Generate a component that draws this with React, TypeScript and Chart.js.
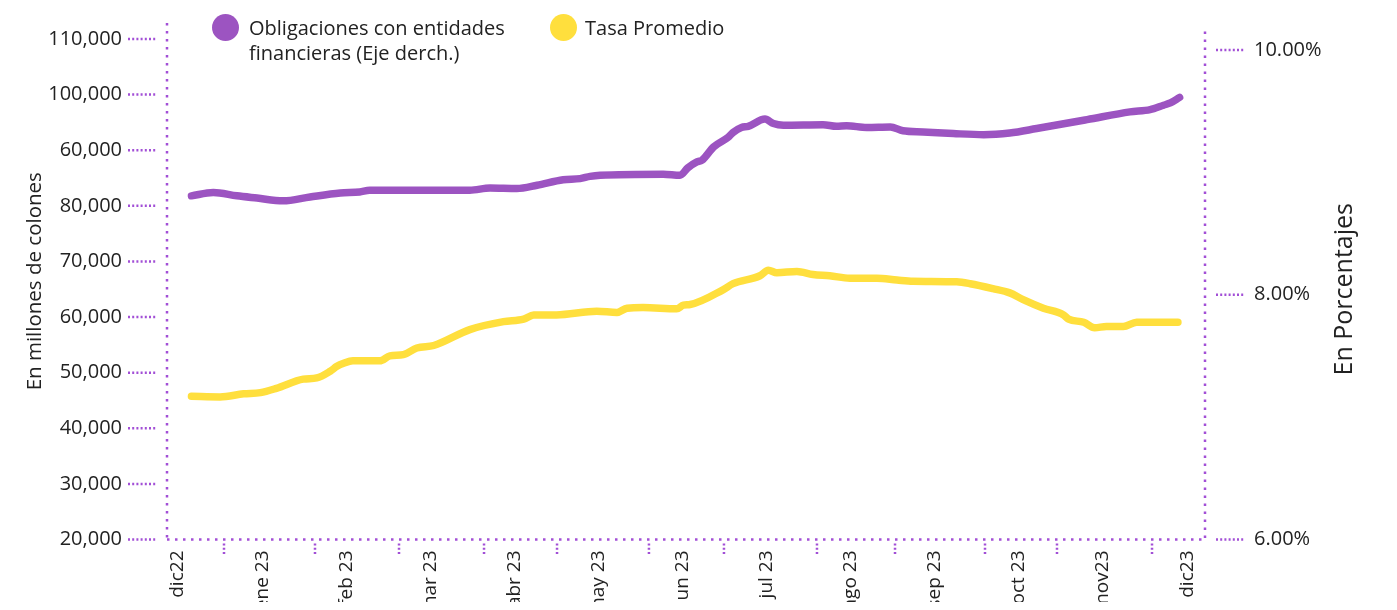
import React, { useEffect, useRef } from "react";
import { Chart, registerables } from "chart.js";

Chart.register(...registerables);

// ---------- data ----------
const monthLabels = [
  "dic22", "ene 23", "feb 23", "mar 23", "abr 23", "may 23", "jun 23",
  "jul 23", "ago 23", "sep 23", "oct 23", "nov23", "dic23",
];
const monthTickPositions = [0, 1, 2, 3, 4, 5, 6, 7, 8, 9, 10, 11, 12];
const monthDividerPositions = [0.547, 1.629, 2.628, 3.639, 4.507, 5.6, 6.492, 7.598, 8.526, 9.596, 10.452, 11.582];

const leftTickValues = [20000, 30000, 40000, 50000, 60000, 70000, 80000, 90000, 100000, 110000];
const leftTickLabels = ["20,000", "30,000", "40,000", "50,000", "60,000", "70,000", "80,000", "60,000", "100,000", "110,000"];
const rightTickValues = [6, 8, 10];
const rightTickLabels = ["6.00%", "8.00%", "10.00%"];

const leftTitle = "En millones de colones";
const rightTitle = "En Porcentajes";
const obligacionesLabel = ["Obligaciones con entidades", "financieras (Eje derch.)"];
const tasaLabel = ["Tasa Promedio"];

const obligacionesX = [0.16, 0.42, 0.7, 0.94, 1.25, 1.57, 1.93, 2.16, 2.28, 3.47, 3.71, 4.03, 4.27, 4.58, 4.78, 4.9, 5.02, 5.77, 5.97, 6.06, 6.17, 6.23, 6.37, 6.54, 6.6, 6.7, 6.78, 6.98, 7.08, 7.2, 7.67, 7.83, 7.95, 8.19, 8.47, 8.62, 8.86, 9.22, 9.58, 9.89, 10.21, 10.81, 11.32, 11.56, 11.72, 11.8, 11.91];
const obligacionesY = [81800, 82400, 81800, 81400, 80900, 81600, 82300, 82500, 82800, 82800, 83200, 83100, 83700, 84700, 84900, 85300, 85500, 85700, 85500, 86800, 87900, 88200, 90600, 92300, 93200, 94100, 94300, 95600, 94800, 94500, 94600, 94300, 94400, 94100, 94200, 93500, 93300, 93000, 92800, 93100, 93900, 95500, 96900, 97300, 98100, 98500, 99500];

const tasaX = [0.16, 0.5, 0.78, 0.98, 1.17, 1.49, 1.65, 1.81, 1.89, 1.97, 2.08, 2.4, 2.52, 2.68, 2.84, 3.04, 3.47, 3.87, 4.11, 4.23, 4.5, 4.98, 5.22, 5.34, 5.53, 5.93, 6.01, 6.09, 6.48, 6.6, 6.92, 7.02, 7.12, 7.36, 7.55, 7.75, 7.99, 8.31, 8.55, 8.74, 9.26, 9.42, 9.69, 9.89, 10.05, 10.29, 10.53, 10.59, 10.77, 10.9, 11.04, 11.24, 11.4, 11.6, 11.89];
const tasaY = [7.17, 7.165, 7.19, 7.2, 7.235, 7.31, 7.32, 7.375, 7.415, 7.44, 7.46, 7.46, 7.5, 7.51, 7.565, 7.585, 7.715, 7.78, 7.8, 7.835, 7.835, 7.865, 7.855, 7.89, 7.895, 7.885, 7.915, 7.92, 8.04, 8.09, 8.155, 8.2, 8.18, 8.19, 8.165, 8.155, 8.135, 8.135, 8.12, 8.11, 8.105, 8.09, 8.05, 8.015, 7.96, 7.89, 7.835, 7.8, 7.775, 7.73, 7.74, 7.74, 7.775, 7.775, 7.775];

// ---------- styles ----------
const PURPLE = "#9c54c1";
const YELLOW = "#ffdf3d";
const DOT = "#a24fd6";
const TEXT = "#222222";
const FONT = "'Open Sans', sans-serif";

const axisDecor = {
  id: "axisDecor",
  afterDraw(chart: any) {
    const { ctx, chartArea, scales } = chart;
    const { left, right, top, bottom } = chartArea;
    const seg = (x1: number, y1: number, x2: number, y2: number) => {
      ctx.beginPath();
      ctx.moveTo(x1, y1);
      ctx.lineTo(x2, y2);
      ctx.stroke();
    };
    ctx.save();
    ctx.strokeStyle = DOT;
    ctx.lineWidth = 2.5;
    ctx.setLineDash([2.5, 5.5]);
    seg(left, top, left, bottom);
    seg(right, scales.y1.getPixelForValue(10.15), right, bottom);
    seg(left, bottom, right, bottom);
    ctx.setLineDash([2, 2.2]);
    scales.y.ticks.forEach((t: any) => {
      const py = scales.y.getPixelForValue(t.value);
      seg(left - 39, py, left - 10, py);
    });
    scales.y1.ticks.forEach((t: any) => {
      const py = scales.y1.getPixelForValue(t.value);
      seg(right + 11, py, right + 39, py);
    });
    monthDividerPositions.forEach((m) => {
      const px = scales.x.getPixelForValue(m);
      seg(px, bottom + 4, px, bottom + 16);
    });
    ctx.restore();

    // right axis title, reading bottom to top
    const y1 = scales.y1;
    ctx.save();
    ctx.fillStyle = TEXT;
    ctx.font = `25px ${FONT}`;
    ctx.textAlign = "center";
    ctx.textBaseline = "middle";
    ctx.translate(y1.right - 44, (top + bottom) / 2 + 8);
    ctx.rotate(-Math.PI / 2);
    ctx.fillText(rightTitle, 0, 0);
    ctx.restore();
  },
};

export default function App() {
  const canvasRef = useRef<HTMLCanvasElement | null>(null);

  useEffect(() => {
    if (!canvasRef.current) return;
    const lineStyle = {
      borderWidth: 7.5,
      pointRadius: 0,
      pointHoverRadius: 0,
      cubicInterpolationMode: "monotone" as const,
      borderCapStyle: "round" as const,
      borderJoinStyle: "round" as const,
      fill: false,
    };
    const noPad = (s: any) => {
      s.paddingTop = 0;
      s.paddingBottom = 0;
      s.paddingLeft = 0;
      s.paddingRight = 0;
    };
    const chart = new Chart(canvasRef.current, {
      type: "line",
      data: {
        datasets: [
          {
            ...lineStyle,
            label: obligacionesLabel.join(" "),
            data: obligacionesX.map((x, i) => ({ x, y: obligacionesY[i] })),
            borderColor: PURPLE,
            backgroundColor: PURPLE,
            yAxisID: "y",
          },
          {
            ...lineStyle,
            label: tasaLabel.join(" "),
            data: tasaX.map((x, i) => ({ x, y: tasaY[i] })),
            borderColor: YELLOW,
            backgroundColor: YELLOW,
            yAxisID: "y1",
          },
        ],
      },
      options: {
        animation: false,
        responsive: true,
        maintainAspectRatio: false,
        layout: { padding: { top: 15, left: 0, right: 0, bottom: 0 } },
        plugins: { legend: { display: false }, tooltip: { enabled: false } },
        scales: {
          x: {
            type: "linear",
            min: -0.1308,
            max: 12.212,
            grid: { display: false, drawTicks: false },
            border: { display: false },
            afterBuildTicks: (s: any) => {
              s.ticks = monthTickPositions.map((v) => ({ value: v }));
            },
            afterFit: (s: any) => {
              s.height = 62.5;
              noPad(s);
            },
            ticks: {
              autoSkip: false,
              minRotation: 90,
              maxRotation: 90,
              padding: 11,
              color: TEXT,
              font: { family: FONT, size: 19 },
              callback: (_v: any, i: number) => monthLabels[i],
            },
          },
          y: {
            type: "linear",
            position: "left",
            min: 20000,
            max: 112880,
            grid: { display: false, drawTicks: false },
            border: { display: false },
            afterBuildTicks: (s: any) => {
              s.ticks = leftTickValues.map((v) => ({ value: v }));
            },
            afterFit: (s: any) => {
              s.width = 159;
              noPad(s);
            },
            ticks: {
              padding: 45,
              color: TEXT,
              font: { family: FONT, size: 20 },
              callback: (_v: any, i: number) => leftTickLabels[i],
            },
            title: {
              display: true,
              text: leftTitle,
              color: TEXT,
              font: { family: FONT, size: 20.5 },
              padding: { top: 14.7, bottom: 0 },
            },
          },
          y1: {
            type: "linear",
            position: "right",
            min: 6,
            max: 10.22,
            grid: { display: false, drawTicks: false },
            border: { display: false },
            afterBuildTicks: (s: any) => {
              s.ticks = rightTickValues.map((v) => ({ value: v }));
            },
            afterFit: (s: any) => {
              s.width = 184;
              noPad(s);
            },
            ticks: {
              padding: 49,
              color: TEXT,
              font: { family: FONT, size: 20 },
              callback: (_v: any, i: number) => rightTickLabels[i],
            },
          },
        },
      },
      plugins: [axisDecor],
    });
    return () => chart.destroy();
  }, []);

  const legendText: React.CSSProperties = {
    position: "absolute",
    fontFamily: FONT,
    fontSize: "20px",
    lineHeight: "25px",
    color: TEXT,
    whiteSpace: "nowrap",
  };
  const dot = (color: string, left: number): React.CSSProperties => ({
    position: "absolute",
    left,
    top: 5.5,
    width: 27,
    height: 27,
    borderRadius: "50%",
    background: color,
  });

  return (
    <div style={{ position: "relative", width: 1381, height: 594 }}>
      <canvas ref={canvasRef} />
      <div style={dot(PURPLE, 204)} />
      <div style={{ ...legendText, left: 241, top: 6.5 }}>
        {obligacionesLabel.map((l) => (
          <div key={l}>{l}</div>
        ))}
      </div>
      <div style={dot(YELLOW, 541.5)} />
      <div style={{ ...legendText, left: 577, top: 6.5 }}>
        {tasaLabel.map((l) => (
          <div key={l}>{l}</div>
        ))}
      </div>
    </div>
  );
}
